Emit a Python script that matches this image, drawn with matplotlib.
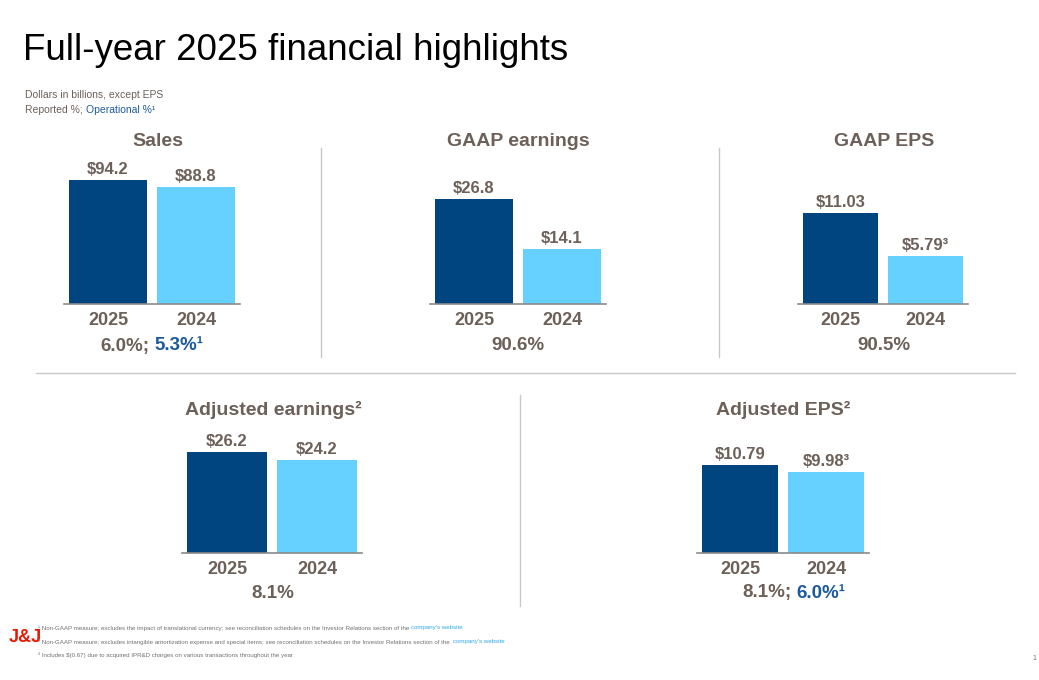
''' FULL-YEAR 2025 FINANCIAL HIGHLIGHTS '''

import matplotlib.pyplot as plt

# DATA
years = ["2025", "2024"]
sales = [94.2, 88.8]
gaap_earnings = [26.8, 14.1]
gaap_eps = [11.03, 5.79]
adj_earnings = [26.2, 24.2]
adj_eps = [10.79, 9.98]

sales_labels = ["$94.2", "$88.8"]
gaap_earn_labels = ["$26.8", "$14.1"]
gaap_eps_labels = ["$11.03", "$5.79³"]
adj_earn_labels = ["$26.2", "$24.2"]
adj_eps_labels = ["$10.79", "$9.98³"]

# COLOURS / FONTS
DARK = "#00457F"
LIGHT = "#66D1FF"
GREY = "#6C6059"
BLUE = "#1C5A9E"
LINE = "#C8C8C8"
plt.rcParams['font.family'] = ['Liberation Sans', 'DejaVu Sans']

W, H = 1039, 680
fig = plt.figure(figsize=(W / 100, H / 100), dpi=100)


def px(x, y):
    return x / W, 1 - y / H


def panel(left, right, base, top_dark, vals, labels, title, title_x, title_y):
    ax_h = 140
    ax = fig.add_axes([left / W, 1 - base / H, (right - left) / W, ax_h / H])
    ax.bar([0, 1], vals, width=0.89, color=[DARK, LIGHT])
    ax.set_xlim(-0.5, 1.5)
    ax.set_ylim(0, vals[0] * ax_h / (base - top_dark))
    for s in ["top", "right", "left"]:
        ax.spines[s].set_visible(False)
    ax.spines["bottom"].set_color("#8A8A8A")
    ax.spines["bottom"].set_linewidth(1.2)
    ax.set_yticks([])
    ax.set_xticks([0, 1])
    ax.set_xticklabels(years, fontsize=13, color=GREY, fontweight="bold")
    ax.tick_params(axis="x", length=0, pad=6)
    for i, (v, lab) in enumerate(zip(vals, labels)):
        ax.annotate(lab, (i, v), xytext=(0, 2), textcoords="offset points",
                    ha="center", va="bottom", fontsize=12, color=GREY,
                    fontweight="bold")
    fig.text(*px(title_x, title_y), title, ha="center", va="center",
             fontsize=14, color=GREY, fontweight="bold")
    return ax


def pct(x, y, first, second=None):
    # second part (operational %) is drawn in blue right after the first
    t = fig.text(*px(x, y), first, ha="left" if second else "center",
                 va="center", fontsize=13.5, color=GREY, fontweight="bold")
    if second:
        fig.add_artist(plt.Annotation(second, xy=(1, 0.5), xycoords=t,
                                      xytext=(4, 0), textcoords="offset points",
                                      ha="left", va="center", fontsize=13.5,
                                      color=BLUE, fontweight="bold"))


# TITLE AND SUBTITLES
fig.text(*px(23, 50), "Full-year 2025 financial highlights", ha="left",
         va="center", fontsize=26.5, color="black")
fig.text(*px(25, 95), "Dollars in billions, except EPS", ha="left",
         va="center", fontsize=7.5, color=GREY)
sub = fig.text(*px(25, 110), "Reported %;", ha="left", va="center",
               fontsize=7.5, color=GREY)
fig.add_artist(plt.Annotation("Operational %¹", xy=(1, 0.5), xycoords=sub,
                              xytext=(2, 0), textcoords="offset points",
                              ha="left", va="center", fontsize=7.5,
                              color=BLUE))

# PANELS
panel(64, 240, 304, 180, sales, sales_labels, "Sales", 158, 142)
panel(430, 606, 304, 199, gaap_earnings, gaap_earn_labels,
      "GAAP earnings", 518, 142)
panel(798, 968, 304, 213, gaap_eps, gaap_eps_labels, "GAAP EPS", 884, 142)
panel(182, 362, 553, 452, adj_earnings, adj_earn_labels,
      "Adjusted earnings²", 273, 410)
panel(697, 869, 553, 465, adj_eps, adj_eps_labels, "Adjusted EPS²", 783, 410)

# PERCENT CHANGES
pct(100, 346, "6.0%;", "5.3%¹")
pct(518, 346, "90.6%")
pct(884, 346, "90.5%")
pct(273, 593, "8.1%")
pct(742, 593, "8.1%;", "6.0%¹")

# DIVIDERS
fig.add_artist(plt.Line2D([321 / W, 321 / W], [1 - 148 / H, 1 - 357 / H],
                          color=LINE, lw=1))
fig.add_artist(plt.Line2D([719 / W, 719 / W], [1 - 148 / H, 1 - 357 / H],
                          color=LINE, lw=1))
fig.add_artist(plt.Line2D([36 / W, 1015 / W], [1 - 373 / H, 1 - 373 / H],
                          color=LINE, lw=1))
fig.add_artist(plt.Line2D([520 / W, 520 / W], [1 - 395 / H, 1 - 606 / H],
                          color=LINE, lw=1))

# FOOTNOTES
fig.text(*px(9, 637), "J&J", ha="left", va="center", fontsize=13,
         color="#EB1700", fontweight="bold")
notes = [
    ("¹ Non-GAAP measure; excludes the impact of translational currency; see "
     "reconciliation schedules on the Investor Relations section of the ",
     "company's website", 628),
    ("² Non-GAAP measure; excludes intangible amortization expense and special "
     "items; see reconciliation schedules on the Investor Relations section "
     "of the  ", "company's website", 642),
    ("³ Includes $(0.67) due to acquired IPR&D charges on various transactions "
     "throughout the year", None, 655),
]
for txt, link, y in notes:
    t = fig.text(*px(38, y), txt, ha="left", va="center", fontsize=4.4,
                 color="#707070")
    if link:
        fig.add_artist(plt.Annotation(link, xy=(1, 0.5), xycoords=t,
                                      xytext=(0, 0), textcoords="offset points",
                                      ha="left", va="center", fontsize=4.4,
                                      color="#2EA8E6"))
fig.text(*px(1036, 658), "1", ha="right", va="center", fontsize=5,
         color="#707070")

plt.savefig("out.png", dpi=100)
plt.close()
